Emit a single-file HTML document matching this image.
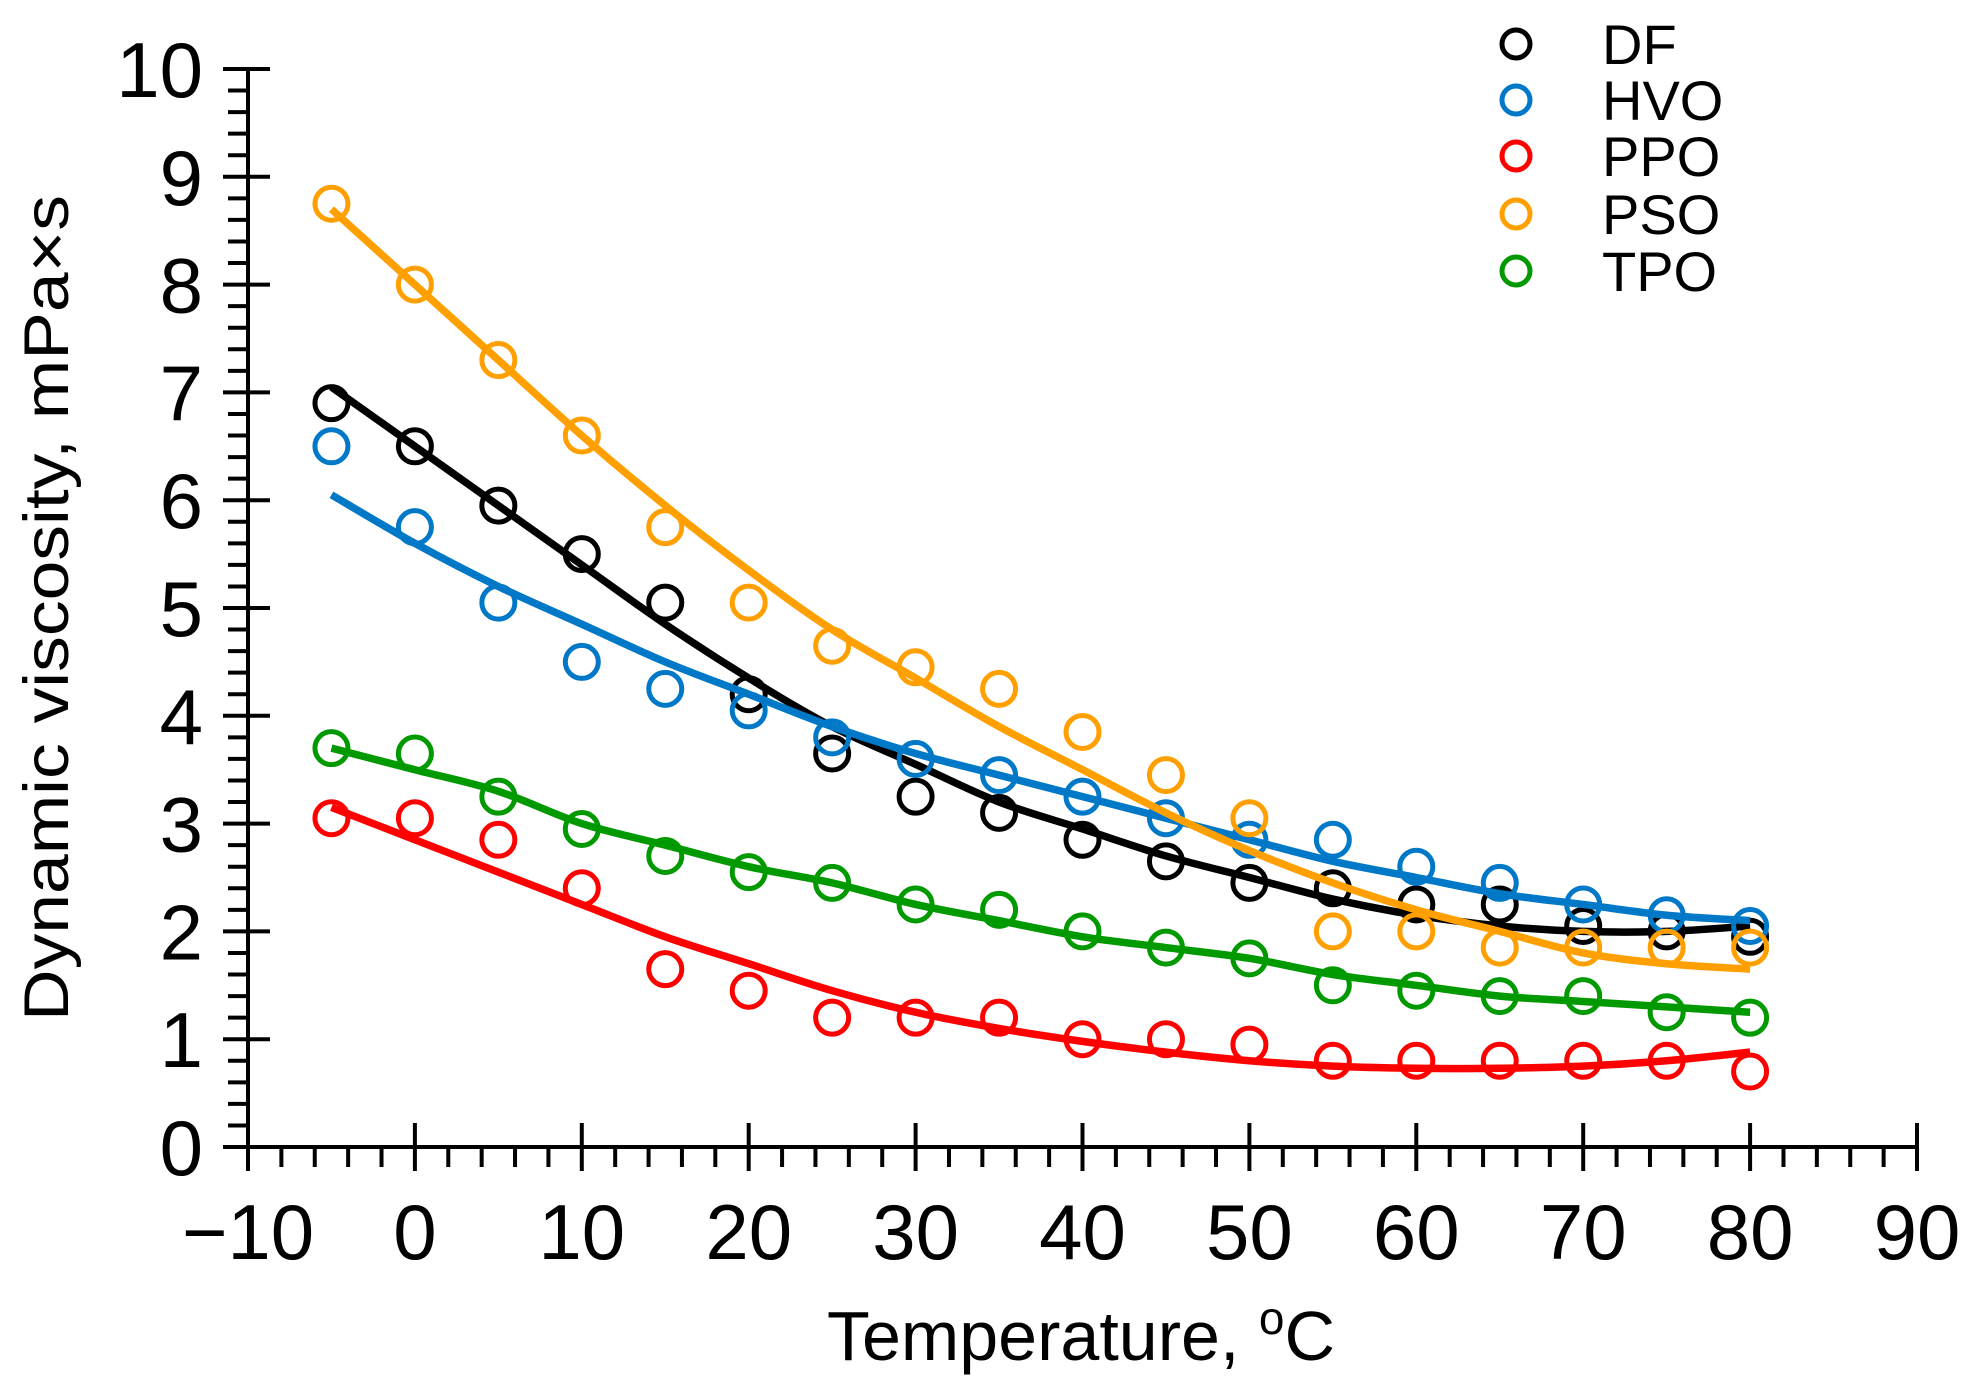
<!DOCTYPE html>
<html><head><meta charset="utf-8"><style>
html,body{margin:0;padding:0;background:#fff;}
svg{display:block;font-family:"Liberation Sans",Arial,sans-serif;}
</style></head><body>
<svg id="chart" width="1976" height="1393" viewBox="0 0 1976 1393" xmlns="http://www.w3.org/2000/svg"></svg>
<script>
const temps=[-5,0,5,10,15,20,25,30,35,40,45,50,55,60,65,70,75,80];
const seriesNames=["DF","HVO","PPO","PSO","TPO"];
const seriesColors=["#000000","#0078c8","#ff0000","#ffa000","#009a00"];
const dfPoints=[6.9,6.5,5.95,5.5,5.05,4.2,3.65,3.25,3.1,2.85,2.65,2.45,2.4,2.25,2.25,2.05,2.0,1.95];
const hvoPoints=[6.5,5.75,5.05,4.5,4.25,4.05,3.8,3.6,3.45,3.25,3.05,2.85,2.85,2.6,2.45,2.25,2.15,2.05];
const ppoPoints=[3.05,3.05,2.85,2.4,1.65,1.45,1.2,1.2,1.2,1.0,1.0,0.95,0.8,0.8,0.8,0.8,0.8,0.7];
const psoPoints=[8.75,8.0,7.3,6.6,5.75,5.05,4.65,4.45,4.25,3.85,3.45,3.05,2.0,2.0,1.85,1.85,1.85,1.85];
const tpoPoints=[3.7,3.65,3.25,2.95,2.7,2.55,2.45,2.25,2.2,2.0,1.85,1.75,1.5,1.45,1.4,1.4,1.25,1.2];
const dfFit=[7.05,6.5,5.95,5.4,4.85,4.35,3.9,3.55,3.2,2.95,2.7,2.5,2.3,2.15,2.05,2.0,2.0,2.05];
const hvoFit=[6.05,5.6,5.2,4.85,4.5,4.2,3.9,3.65,3.45,3.25,3.05,2.85,2.65,2.5,2.35,2.25,2.15,2.1];
const ppoFit=[3.15,2.85,2.55,2.25,1.95,1.7,1.45,1.25,1.1,0.98,0.88,0.8,0.75,0.73,0.73,0.75,0.8,0.88];
const psoFit=[8.7,8.0,7.3,6.6,5.95,5.35,4.8,4.35,3.9,3.5,3.1,2.75,2.45,2.2,2.0,1.8,1.7,1.65];
const tpoFit=[3.7,3.5,3.3,3.0,2.8,2.6,2.45,2.25,2.1,1.95,1.85,1.75,1.6,1.5,1.4,1.35,1.3,1.25];
const xTicks=[-10,0,10,20,30,40,50,60,70,80,90];
const yTicks=[0,1,2,3,4,5,6,7,8,9,10];
const xTickLabels=["\u221210","0","10","20","30","40","50","60","70","80","90"];

const NS="http://www.w3.org/2000/svg";
const svg=document.getElementById("chart");
const X0=248,X1=1917,Y0=1147,Y1=69;
function xs(v){return X0+(v+10)/100*(X1-X0);}
function ys(v){return Y0-v/10*(Y0-Y1);}
function mk(tag,attrs,parent){const e=document.createElementNS(NS,tag);for(const k in attrs)e.setAttribute(k,attrs[k]);(parent||svg).appendChild(e);return e;}

const axes=mk("g",{stroke:"#000","stroke-width":4,fill:"none"});


mk("line",{x1:X0,y1:Y1,x2:X0,y2:Y0+24},axes);
mk("line",{x1:X0-22,y1:Y0,x2:X1,y2:Y0},axes);
for(let v=0;v<=10.001;v+=0.2){
  const y=ys(v);const major=Math.abs(v-Math.round(v))<0.01;
  mk("line",{x1:major?X0-25:X0-20,y1:y,x2:major?X0+22:X0,y2:y},axes);
}
for(let v=-10;v<=90;v+=2){
  const x=xs(v);const major=v%10===0;
  mk("line",{x1:x,y1:major?Y0-24:Y0,x2:x,y2:major?Y0+24:Y0+20},axes);
}
yTicks.forEach(v=>{
  const t=mk("text",{x:X0-45,y:ys(v)+28,"text-anchor":"end","font-size":78,fill:"#000"});
  t.textContent=String(v);
  
  
});
xTicks.forEach((v,i)=>{
  const t=mk("text",{x:xs(v),y:Y0+112,"text-anchor":"middle","font-size":78,fill:"#000"});
  t.textContent=xTickLabels[i];
  
  
});

const yt=mk("text",{transform:"translate(68,608) rotate(-90)","text-anchor":"middle","font-size":63,fill:"#000",textLength:826,lengthAdjust:"spacingAndGlyphs"});
yt.textContent="Dynamic viscosity, mPa\u00d7s";


const xt=mk("text",{x:1081,y:1360,"text-anchor":"middle","font-size":70,fill:"#000"});
xt.innerHTML='Temperature, <tspan dy="-26" font-size="46">o</tspan><tspan dy="26">C</tspan>';



const allPts=[dfPoints,hvoPoints,ppoPoints,psoPoints,tpoPoints];
const allFit=[dfFit,hvoFit,ppoFit,psoFit,tpoFit];
function smoothPath(pts){
  let d="M"+pts[0][0]+","+pts[0][1];
  for(let i=0;i<pts.length-1;i++){
    const p0=pts[Math.max(0,i-1)],p1=pts[i],p2=pts[i+1],p3=pts[Math.min(pts.length-1,i+2)];
    const c1x=p1[0]+(p2[0]-p0[0])/6,c1y=p1[1]+(p2[1]-p0[1])/6;
    const c2x=p2[0]-(p3[0]-p1[0])/6,c2y=p2[1]-(p3[1]-p1[1])/6;
    d+=" C"+c1x+","+c1y+" "+c2x+","+c2y+" "+p2[0]+","+p2[1];
  }
  return d;
}
seriesNames.forEach((name,s)=>{
  const g=mk("g",{});
  
  
  allPts[s].forEach((v,i)=>{
    const c=mk("circle",{cx:xs(temps[i]),cy:ys(v),r:16.5,fill:"none",stroke:seriesColors[s],"stroke-width":5},g);
    
    
  });
  const p=mk("path",{d:smoothPath(allFit[s].map((v,i)=>[xs(temps[i]),ys(v)])),fill:"none",stroke:seriesColors[s],"stroke-width":7.5,"stroke-linejoin":"round"},g);
  
  
});

const lg=mk("g",{});


const legendY=[44,100,156,214,271];
seriesNames.forEach((name,s)=>{
  const e=mk("g",{},lg);
  
  
  mk("circle",{cx:1516,cy:legendY[s],r:14,fill:"none",stroke:seriesColors[s],"stroke-width":5},e);
  const t=mk("text",{x:1602,y:legendY[s]+20,"font-size":56,fill:"#000"},e);
  t.textContent=name;
});
</script>
</body></html>
